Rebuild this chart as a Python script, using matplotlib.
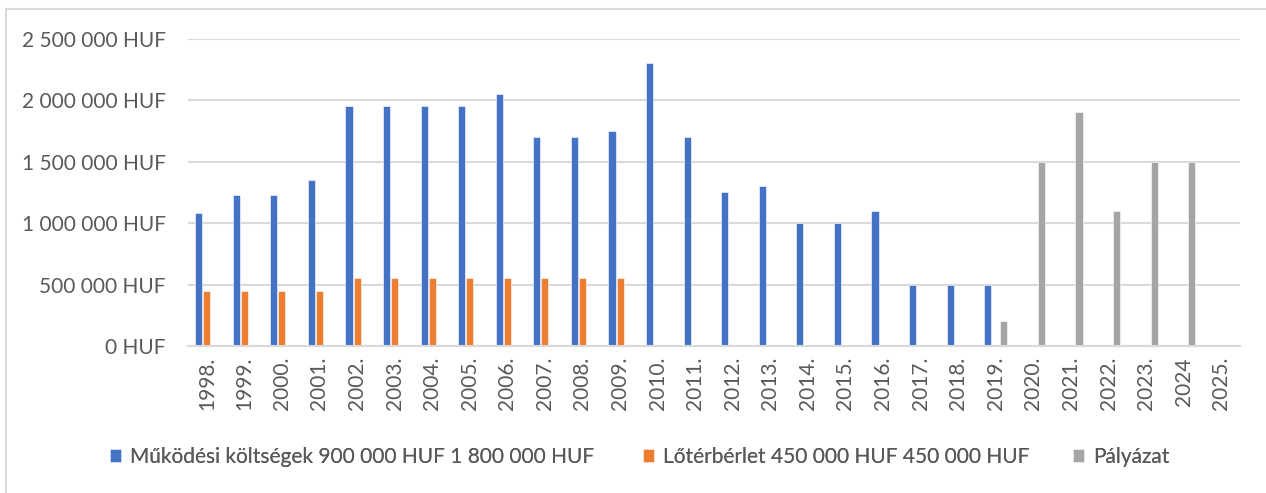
import numpy as np
import matplotlib
matplotlib.use("Agg")
import matplotlib.pyplot as plt
from matplotlib.ticker import FuncFormatter, MultipleLocator
from matplotlib.patches import Rectangle

plt.rcParams['font.family'] = ['Lato', 'DejaVu Sans']

# Data
years = ["1998.", "1999.", "2000.", "2001.", "2002.", "2003.", "2004.", "2005.",
         "2006.", "2007.", "2008.", "2009.", "2010.", "2011.", "2012.", "2013.",
         "2014.", "2015.", "2016.", "2017.", "2018.", "2019.", "2020.", "2021.",
         "2022.", "2023.", "2024", "2025."]
mukodesi = [1080000, 1230000, 1230000, 1350000, 1950000, 1950000, 1950000, 1950000,
            2050000, 1700000, 1700000, 1750000, 2300000, 1700000, 1250000, 1300000,
            1000000, 1000000, 1100000, 500000, 500000, 500000, None, None,
            None, None, None, None]
loterberlet = [450000, 450000, 450000, 450000, 550000, 550000, 550000, 550000,
               550000, 550000, 550000, 550000, None, None, None, None,
               None, None, None, None, None, None, None, None,
               None, None, None, None]
palyazat = [None, None, None, None, None, None, None, None,
            None, None, None, None, None, None, None, None,
            None, None, None, None, None, 200000, 1500000, 1900000,
            1100000, 1500000, 1500000, None]

series_labels = ["Működési költségek 900 000 HUF 1 800 000 HUF",
                 "Lőtérbérlet 450 000 HUF 450 000 HUF",
                 "Pályázat"]
colors = ["#4472C4", "#ED7D31", "#A5A5A5"]

def to_arr(vals):
    return np.array([np.nan if v is None else v for v in vals], dtype=float)

fig = plt.figure(figsize=(12.66, 4.93), dpi=100)
ax = fig.add_axes([188 / 1266, 1 - 346 / 493, (1240 - 188) / 1266, (346 - 38.7) / 493])

x = np.arange(len(years))
width = 0.19
offsets = [-0.215, 0.0, 0.215]
handles = []
for vals, off, col, lab in zip([mukodesi, loterberlet, palyazat], offsets, colors, series_labels):
    h = ax.bar(x + off, to_arr(vals), width=width, color=col, edgecolor='white',
               linewidth=0.4, label=lab, zorder=3)
    handles.append(h)

ax.set_xlim(-0.5, len(years) - 0.5)
ax.set_ylim(0, 2500000)
ax.yaxis.set_major_locator(MultipleLocator(500000))
ax.yaxis.set_major_formatter(FuncFormatter(lambda v, p: f"{int(v):,}".replace(",", " ") + " HUF"))
ax.grid(axis='y', color='#d9d9d9', linewidth=1.5, zorder=0)
ax.set_axisbelow(True)

fs = 15
ax.set_xticks(x)
ax.set_xticklabels(years, rotation=90)
ax.tick_params(axis='x', length=0, pad=8, labelsize=fs, labelcolor='#595959')
ax.tick_params(axis='y', length=0, pad=16, labelsize=fs, labelcolor='#595959')

for s in ['top', 'right', 'left']:
    ax.spines[s].set_visible(False)
ax.spines['bottom'].set_color('#d9d9d9')
ax.spines['bottom'].set_linewidth(1.5)
ax.spines['bottom'].set_zorder(4)

# Legend entries placed one by one
leg_pos = [110, 643, 1073]
for h, lab, px in zip(handles, series_labels, leg_pos):
    lg = fig.legend([h], [lab], loc='center left',
                    bbox_to_anchor=(px / 1266, 1 - 457 / 493),
                    frameon=False, fontsize=fs, handlelength=0.55, handleheight=0.55,
                    handletextpad=0.4, borderaxespad=0, borderpad=0)
    for t in lg.get_texts():
        t.set_color('#595959')
    fig.add_artist(lg)

# Chart border (left and top edges visible)
fig.add_artist(Rectangle((6 / 1266, -0.1), 1.2, 1.1 - 9 / 493, transform=fig.transFigure,
                         fill=False, edgecolor='#d9d9d9', linewidth=1.5))

fig.savefig("out.png", dpi=100)
